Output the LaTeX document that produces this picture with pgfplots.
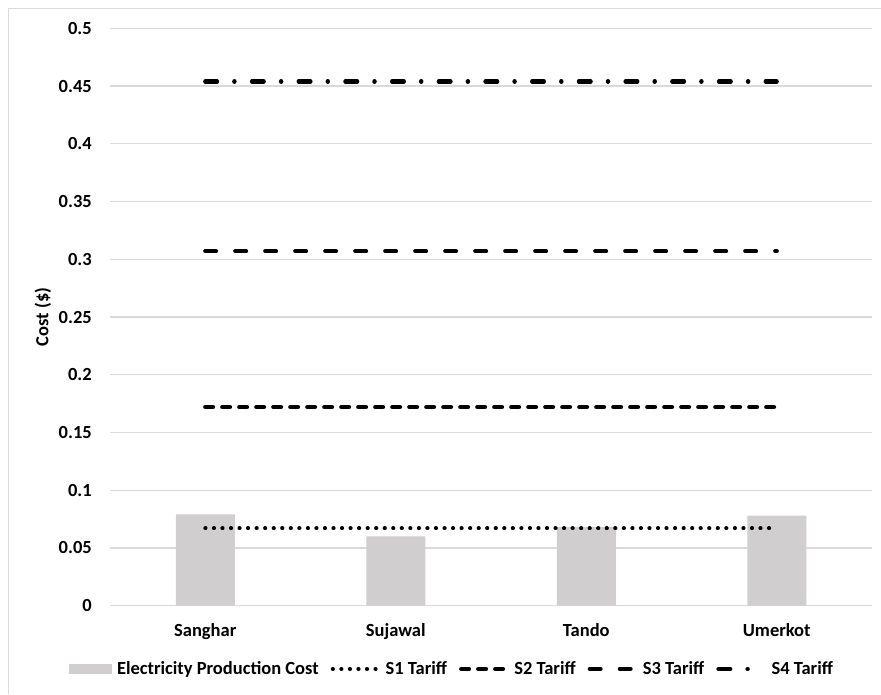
\documentclass[border=0pt]{standalone}
\usepackage{pgfplots}
\pgfplotsset{compat=1.18}
\usepackage{fontspec}
\setmainfont{Carlito}

\definecolor{barc}{RGB}{208,206,206}
\definecolor{gridc}{RGB}{217,217,217}

\newcommand{\lblfont}{\fontsize{18.5}{22}\selectfont\bfseries}

\begin{document}
\begin{tikzpicture}
\begin{axis}[
  scale only axis,
  width=762pt, height=577.4pt,
  xmin=-0.5, xmax=3.5,
  ymin=0, ymax=0.5,
  xtick={0,1,2,3},
  xticklabels={Sanghar,Sujawal,Tando,Umerkot},
  ytick={0,0.05,0.1,0.15,0.2,0.25,0.3,0.35,0.4,0.45,0.5},
  yticklabels={0,0.05,0.1,0.15,0.2,0.25,0.3,0.35,0.4,0.45,0.5},
  axis line style={draw=none},
  major tick length=0pt,
  ymajorgrids,
  grid style={gridc, line width=1.3pt},
  tick label style={font=\lblfont, inner sep=0pt},
  yticklabel style={anchor=east, xshift=-18pt},
  xticklabel style={anchor=north, yshift=-18pt},
  ylabel={Cost (\$)},
  every axis y label/.style={at={(axis description cs:-0.0879,0.5)}, rotate=90,
    anchor=center, font=\lblfont, inner sep=0pt},
  legend columns=-1,
  legend style={at={(axis description cs:-0.0538,-0.1096)}, anchor=west,
    draw=none, fill=none, inner sep=0pt, outer sep=0pt,
    font=\lblfont,
    nodes={inner sep=0pt},
    /tikz/every odd column/.style={column sep=5pt},
    /tikz/every even column/.style={column sep=12pt}},
  legend cell align=left,
]
% production cost per district
\addplot[ybar, bar width=59pt, fill=barc, draw=none, bar shift=0pt,
  legend image code/.code={\fill[barc] (0pt,-5pt) rectangle (43pt,5pt);}]
  coordinates {(0,0.079) (1,0.060) (2,0.068) (3,0.078)};
\addlegendentry{Electricity Production Cost}

% tariff levels
\addplot[black, line width=3.9pt, line cap=round,
  dash pattern=on 0.3pt off 8.24pt,
  legend image code/.code={\draw (0pt,0pt) -- (46pt,0pt);}]
  coordinates {(0,0.067) (3,0.067)};
\addlegendentry{S1 Tariff}

\addplot[black, line width=4.2pt, line cap=round,
  dash pattern=on 7.8pt off 9.2pt,
  legend image code/.code={\draw (0pt,0pt) -- (46pt,0pt);}]
  coordinates {(0,0.172) (3,0.172)};
\addlegendentry{S2 Tariff}

\addplot[black, line width=4.2pt, line cap=round,
  dash pattern=on 10.8pt off 19.2pt,
  legend image code/.code={\draw (0pt,0pt) -- (46pt,0pt);}]
  coordinates {(0,0.307) (3,0.307)};
\addlegendentry{S3 Tariff}

\addplot[black, line width=4.2pt, line cap=round,
  dash pattern=on 11.8pt off 17.2pt on 0.3pt off 17.4pt,
  legend image code/.code={\draw (0pt,0pt) -- (46pt,0pt);}]
  coordinates {(0,0.454) (3,0.454)};
\addlegendentry{S4 Tariff}
\end{axis}

% chart frame (left and top edges)
\draw[gridc, line width=1.3pt] (-101.7pt,-88.3pt) -- (-101.7pt,597.4pt) -- (771pt,597.4pt);

\pgfresetboundingbox
\path[use as bounding box] (-110pt,-88.3pt) rectangle (771pt,605.7pt);
\end{tikzpicture}
\end{document}
